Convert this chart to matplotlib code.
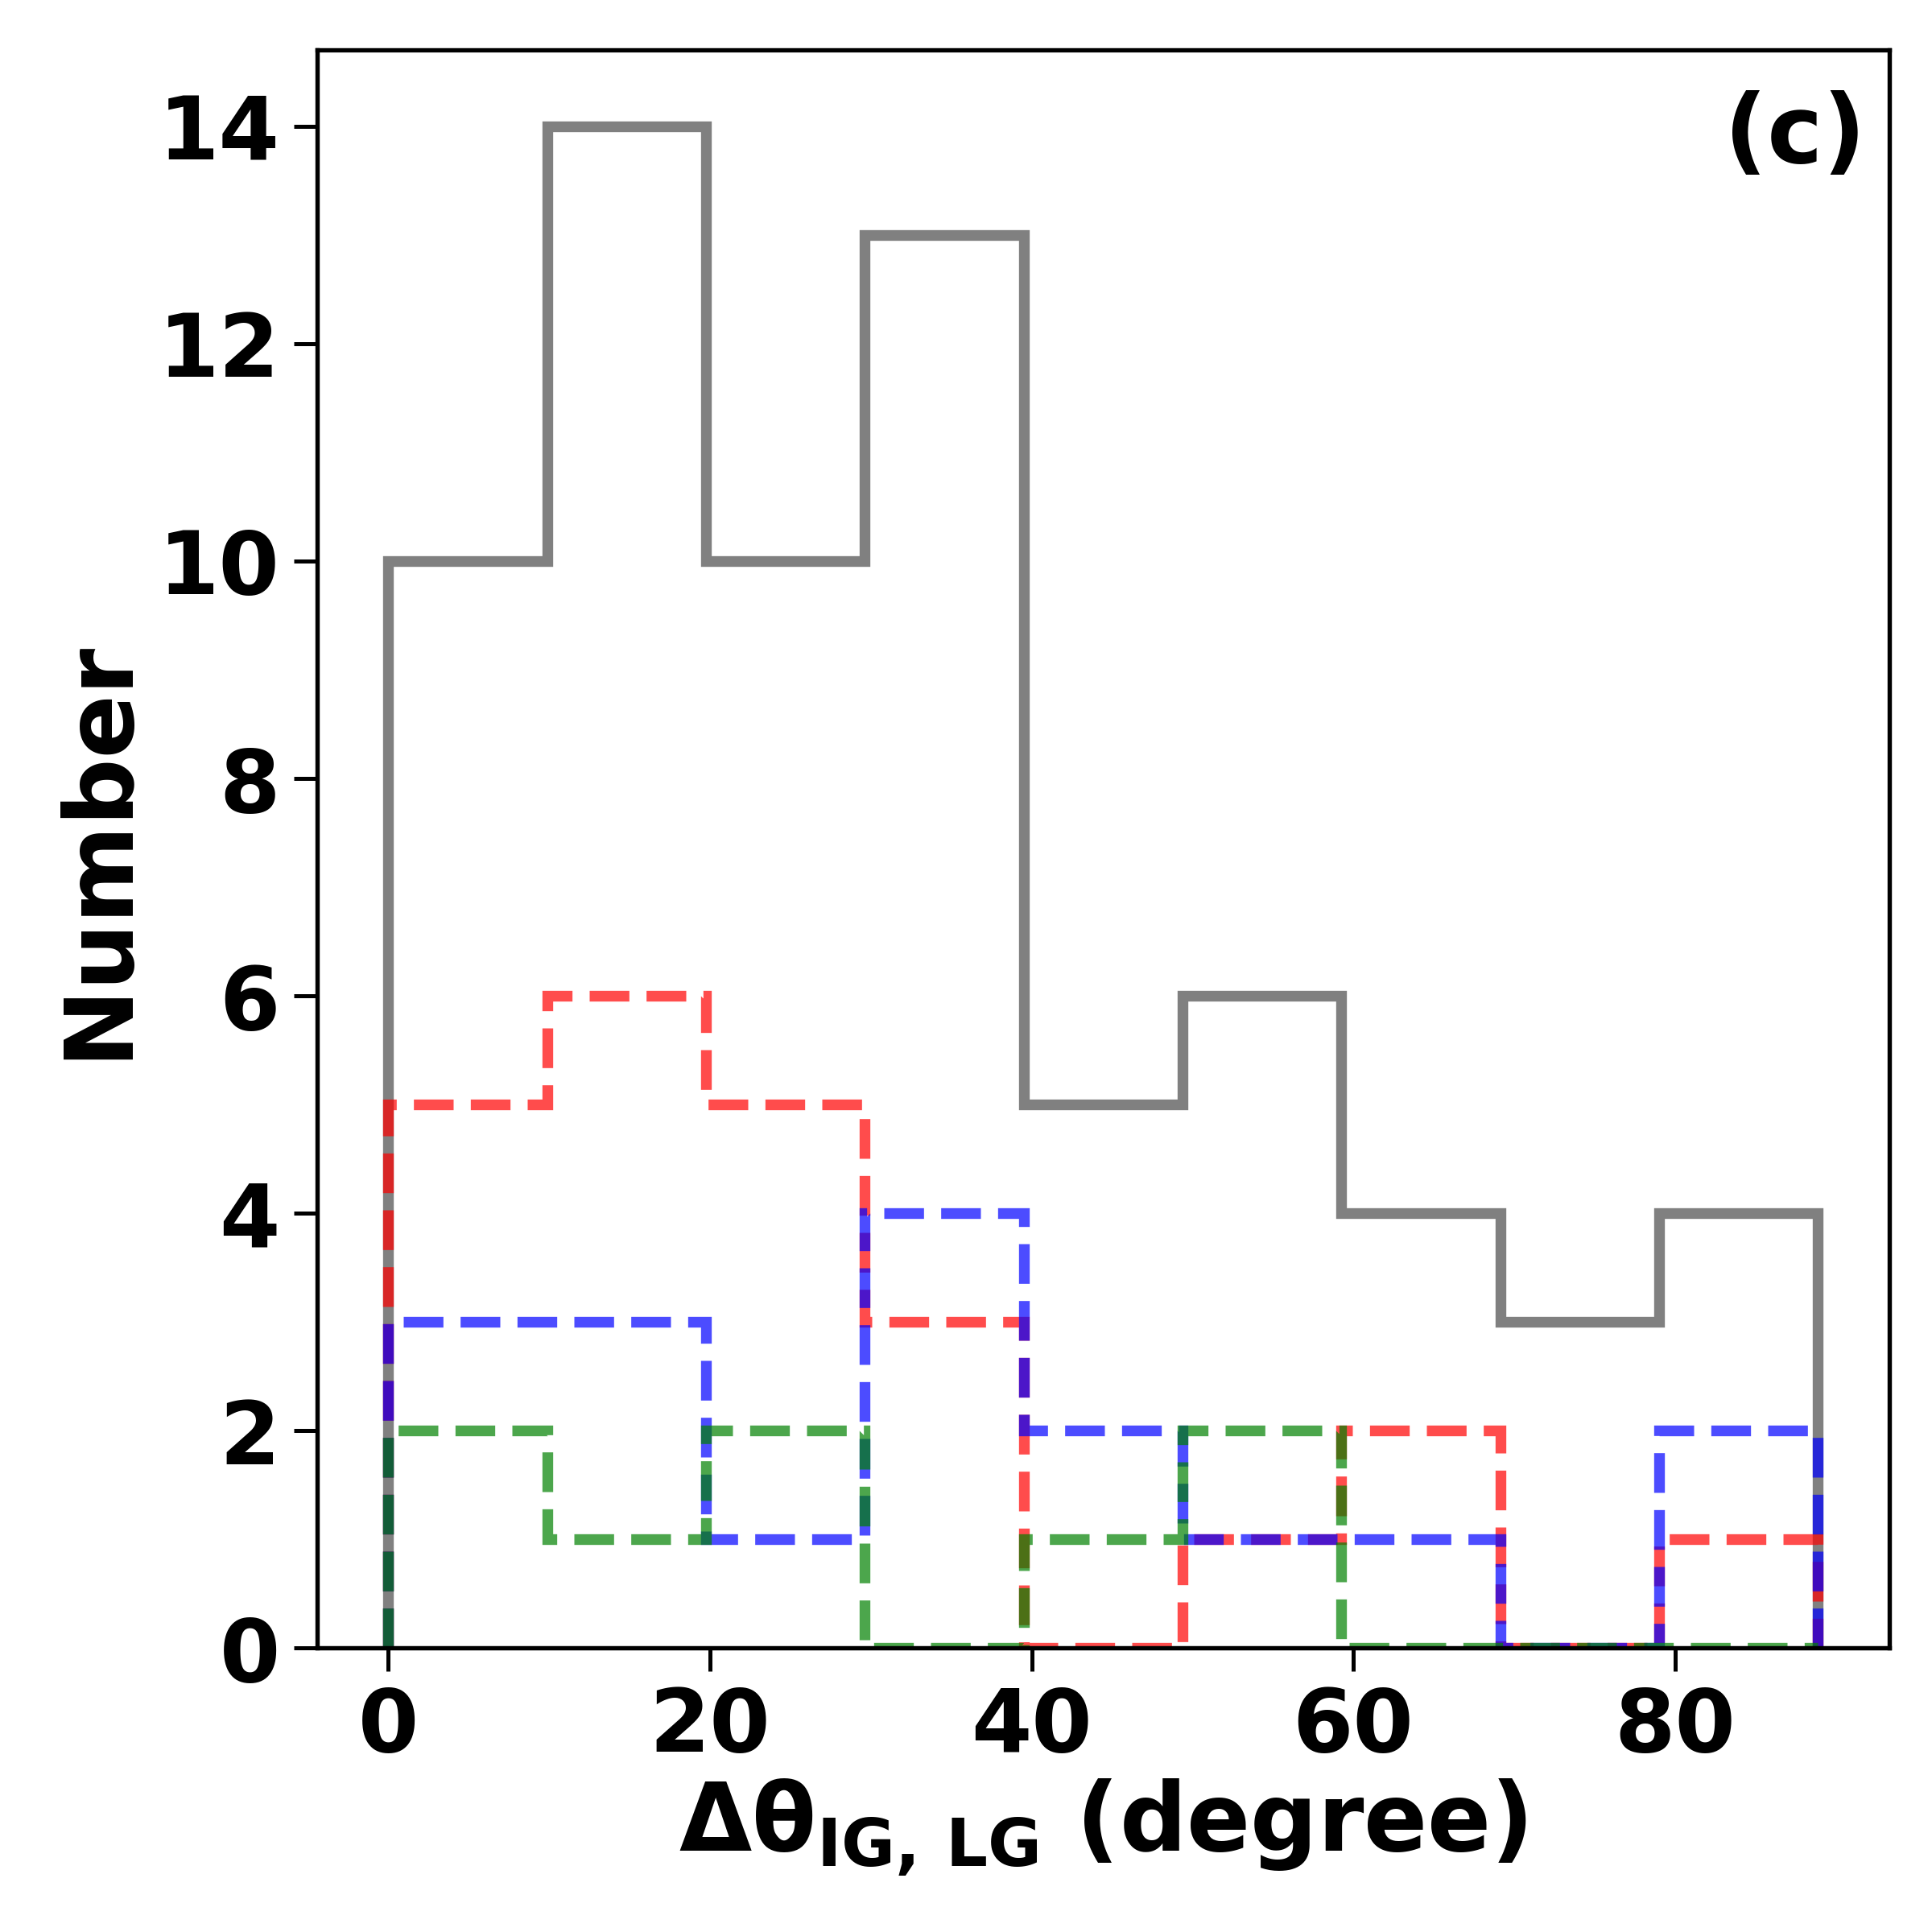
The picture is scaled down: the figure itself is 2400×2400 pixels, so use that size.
import numpy as np
import matplotlib.pyplot as plt

# bin edges (degree) and counts
bin_edges = [0.0, 9.88, 19.76, 29.63, 39.51, 49.39, 59.27, 69.14, 79.02, 88.9]
n_all = [10, 14, 10, 13, 5, 6, 4, 3, 4]
n_red = [5, 6, 5, 3, 0, 1, 2, 0, 1]
n_blue = [3, 3, 1, 4, 2, 1, 1, 0, 2]
n_green = [2, 1, 2, 0, 1, 2, 0, 0, 0]

xticks = [0, 20, 40, 60, 80]
yticks = [0, 2, 4, 6, 8, 10, 12, 14]

plt.rcParams['font.weight'] = 'bold'
plt.rcParams['mathtext.fontset'] = 'dejavusans'

fig, ax = plt.subplots(figsize=(8, 8), dpi=300)
fig.subplots_adjust(left=0.164, right=0.978, bottom=0.147, top=0.974)

lw = 3.2
ax.stairs(n_all, bin_edges, color='gray', lw=lw)
ax.stairs(n_red, bin_edges, color='red', alpha=0.7, ls='--', lw=lw)
ax.stairs(n_blue, bin_edges, color='blue', alpha=0.7, ls='--', lw=lw)
ax.stairs(n_green, bin_edges, color='green', alpha=0.7, ls='--', lw=lw)

ax.set_xlim(-4.45, 93.35)
ax.set_ylim(0, 14.7)
ax.set_xticks(xticks)
ax.set_yticks(yticks)
ax.tick_params(direction='out', length=7, width=1.2, labelsize=26, pad=4)
for lab in ax.get_xticklabels() + ax.get_yticklabels():
    lab.set_fontweight('bold')
for sp in ax.spines.values():
    sp.set_linewidth(1.3)

ax.set_xlabel(r'$\mathbf{\Delta\theta_{IG,\,LG}}$ (degree)', fontsize=28, fontweight='bold', labelpad=2)
ax.set_ylabel('Number', fontsize=28, fontweight='bold', labelpad=4)
ax.text(0.985, 0.975, '(c)', transform=ax.transAxes, ha='right', va='top',
        fontsize=28, fontweight='bold')

plt.savefig('out.png', dpi=300)
